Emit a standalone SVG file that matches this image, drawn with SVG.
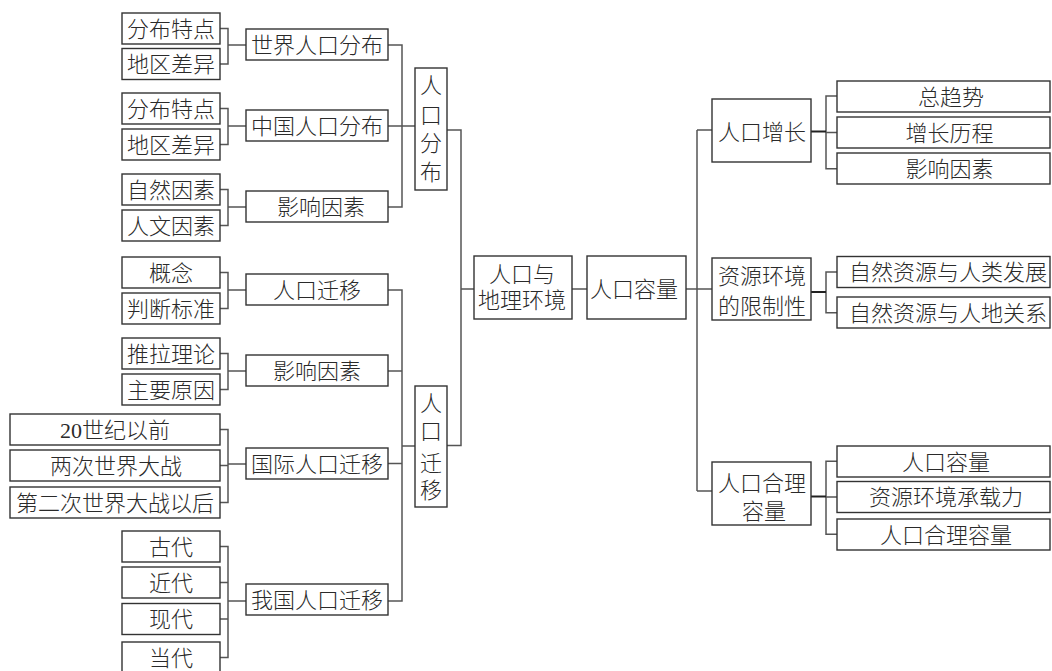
<svg xmlns="http://www.w3.org/2000/svg" width="1052" height="671" viewBox="0 0 1052 671">
<style>
rect{fill:#fff;stroke:#333;stroke-width:1.4}
rect.bg{stroke:none}
text{font-family:"Liberation Serif","Noto Sans CJK SC",serif;font-size:22px;fill:#2a2a2a;text-anchor:middle;font-weight:300}
.c path{fill:none;stroke:#555;stroke-width:1.5}
.c .k{stroke:#222;stroke-width:2}
</style>
<rect class="bg" width="1052" height="671"/>
<g class="c" id="connectors">
<path d="M220 28.5H228V64H220M228 45H246"/>
<path d="M220 108.5H228V144.5H220M228 126H246"/>
<path d="M220 189.5H228V225.5H220M228 207H246"/>
<path d="M220 272.5H228V308.5H220M228 290H246"/>
<path d="M220 353.5H228V389.5H220M228 371H246"/>
<path d="M220 429.5H228V502.5H220M220 465.5H228M228 464H246"/>
<path d="M220 546.5H228V657.5H220M220 582.5H228M220 619H228M228 601H246"/>
<path d="M388 45H402V207H388M388 126H415"/>
<path d="M388 290H402V601H388M388 371H402M388 463.5H402M402 446H415"/>
<path d="M447 130H461V445.5H447M461 289H474"/>
<path d="M572 289H587"/>
<path d="M686 289H712M697 130V491M697 130H712M697 491H712"/>
<path d="M837 96H826V168.7H837M826 132.5H837"/>
<path class="k" d="M811 131.5H826"/>
<path d="M837 272H826V312.7H837"/>
<path class="k" d="M811 292H826"/>
<path d="M837 461.3H826V534.2H837M826 497H837"/>
<path class="k" d="M811 496.5H826"/>
</g>
<g id="n1"><rect x="122" y="13" width="98" height="31"/><text x="171" y="36.5">分布特点</text></g>
<g id="n2"><rect x="122" y="48.5" width="98" height="31"/><text x="171" y="72">地区差异</text></g>
<g id="n3"><rect x="122" y="93" width="98" height="31"/><text x="171" y="116.5">分布特点</text></g>
<g id="n4"><rect x="122" y="129" width="98" height="31"/><text x="171" y="152.5">地区差异</text></g>
<g id="n5"><rect x="122" y="174" width="98" height="31"/><text x="171" y="197.5">自然因素</text></g>
<g id="n6"><rect x="122" y="210" width="98" height="31"/><text x="171" y="233.5">人文因素</text></g>
<g id="n7"><rect x="122" y="257" width="98" height="31"/><text x="171" y="280.5">概念</text></g>
<g id="n8"><rect x="122" y="293" width="98" height="31"/><text x="171" y="316.5">判断标准</text></g>
<g id="n9"><rect x="122" y="338" width="98" height="31"/><text x="171" y="361.5">推拉理论</text></g>
<g id="n10"><rect x="122" y="374" width="98" height="31"/><text x="171" y="397.5">主要原因</text></g>
<g id="n11"><rect x="10" y="414" width="210" height="31"/><text x="115" y="437.5">20世纪以前</text></g>
<g id="n12"><rect x="10" y="450" width="210" height="31"/><text x="116" y="473.5">两次世界大战</text></g>
<g id="n13"><rect x="10" y="487" width="210" height="31"/><text x="115" y="510.5">第二次世界大战以后</text></g>
<g id="n14"><rect x="122" y="531" width="98" height="31"/><text x="171" y="554.5">古代</text></g>
<g id="n15"><rect x="122" y="567" width="98" height="31"/><text x="171" y="590.5">近代</text></g>
<g id="n16"><rect x="122" y="603.5" width="98" height="31"/><text x="171" y="627">现代</text></g>
<g id="n17"><rect x="122" y="642" width="98" height="31"/><text x="171" y="665.5">当代</text></g>
<g id="m1"><rect x="246" y="29" width="142" height="31"/><text x="317" y="52.5">世界人口分布</text></g>
<g id="m2"><rect x="246" y="110" width="142" height="31"/><text x="317" y="133.5">中国人口分布</text></g>
<g id="m3"><rect x="246" y="191" width="142" height="31"/><text x="321" y="214.5">影响因素</text></g>
<g id="m4"><rect x="246" y="274" width="142" height="31"/><text x="317" y="297.5">人口迁移</text></g>
<g id="m5"><rect x="246" y="355" width="142" height="31"/><text x="317" y="378.5">影响因素</text></g>
<g id="m6"><rect x="246" y="448" width="142" height="31"/><text x="317" y="471.5">国际人口迁移</text></g>
<g id="m7"><rect x="246" y="584" width="142" height="31"/><text x="317" y="607.5">我国人口迁移</text></g>
<g id="v1"><rect x="415" y="68" width="32" height="122"/><text x="431" y="93">人</text><text x="431" y="122.5">口</text><text x="431" y="151">分</text><text x="431" y="179.5">布</text></g>
<g id="v2"><rect x="415" y="386" width="32" height="121"/><text x="431" y="411">人</text><text x="431" y="439">口</text><text x="431" y="471">迁</text><text x="431" y="498">移</text></g>
<g id="root"><rect x="474" y="256" width="98" height="63"/><text x="522" y="282">人口与</text><text x="522" y="308">地理环境</text></g>
<g id="cap"><rect x="587" y="256" width="99" height="63"/><text x="634" y="297">人口容量</text></g>
<g id="r1"><rect x="712" y="99" width="99" height="63"/><text x="762" y="139.5">人口增长</text></g>
<g id="r2"><rect x="712" y="258" width="99" height="62"/><text x="762" y="284">资源环境</text><text x="762" y="314">的限制性</text></g>
<g id="r3"><rect x="712" y="462" width="99" height="63"/><text x="762" y="491">人口合理</text><text x="764" y="518.5">容量</text></g>
<g id="s1"><rect x="837" y="81" width="213" height="31"/><text x="951" y="104.5">总趋势</text></g>
<g id="s2"><rect x="837" y="117" width="213" height="31"/><text x="949.5" y="140.5">增长历程</text></g>
<g id="s3"><rect x="837" y="153" width="213" height="31"/><text x="949.5" y="176.5">影响因素</text></g>
<g id="s4"><rect x="837" y="256.5" width="213" height="31"/><text x="948" y="280">自然资源与人类发展</text></g>
<g id="s5"><rect x="837" y="297" width="213" height="31"/><text x="948" y="320.5">自然资源与人地关系</text></g>
<g id="s6"><rect x="837" y="446" width="213" height="31"/><text x="946" y="469.5">人口容量</text></g>
<g id="s7"><rect x="837" y="481.5" width="213" height="31"/><text x="946" y="505">资源环境承载力</text></g>
<g id="s8"><rect x="837" y="519" width="213" height="31"/><text x="946" y="542.5">人口合理容量</text></g>
</svg>
